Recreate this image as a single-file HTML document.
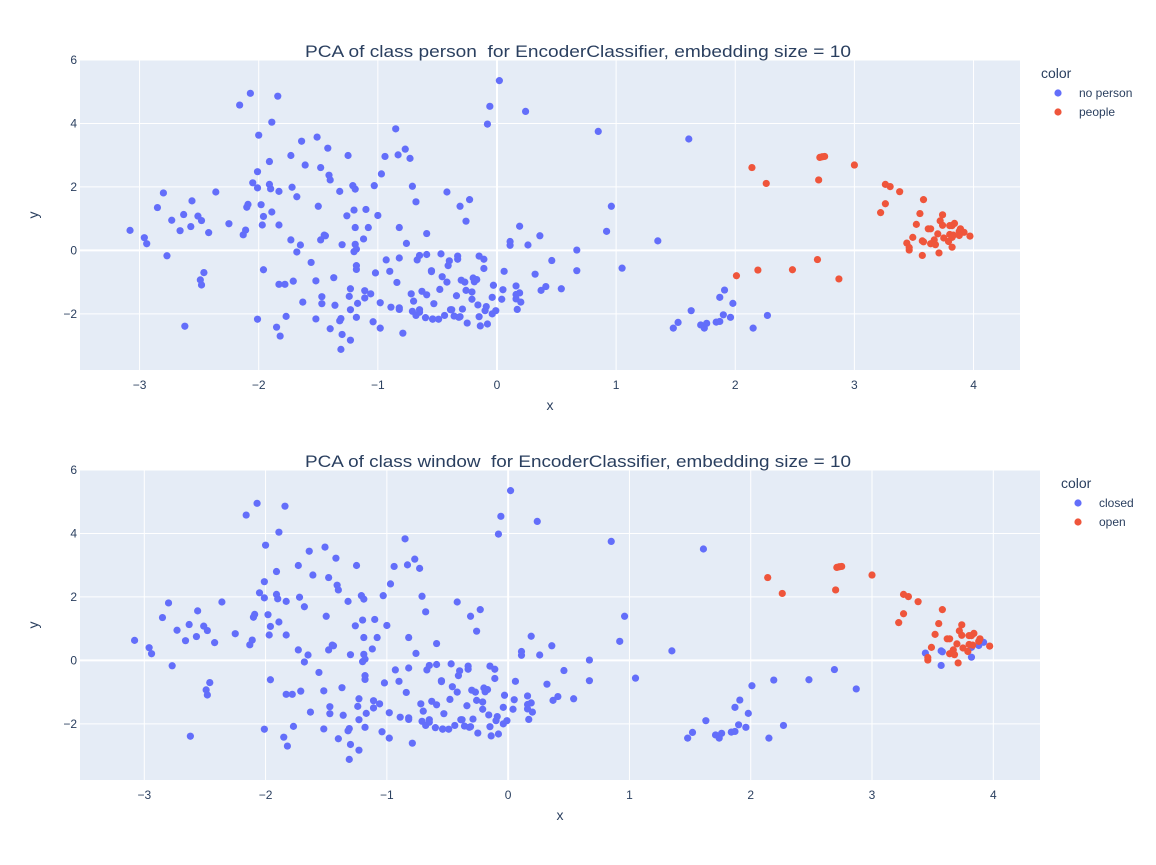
<!DOCTYPE html>
<html><head><meta charset="utf-8">
<style>
body{margin:0;background:#fff;font-family:"Liberation Sans",Arial,sans-serif;}
svg text{font-family:"Liberation Sans",Arial,sans-serif;fill:#2a3f5f;white-space:pre;}
</style></head>
<body>
<svg id="chart" width="1156" height="860" xmlns="http://www.w3.org/2000/svg"></svg>
<script>
const xVals=[-3.08,-2.96,-2.94,-2.77,-2.85,-2.80,-2.73,-2.66,-2.63,-2.57,-2.56,-2.51,-2.48,-2.42,-2.36,-2.46,-2.49,-2.48,-2.62,-2.25,-2.16,-2.07,-1.84,-1.89,-2.00,-2.01,-2.05,-2.01,-1.91,-1.91,-1.90,-1.83,-2.09,-2.10,-1.98,-1.96,-1.89,-1.97,-2.11,-2.13,-1.83,-1.96,-2.01,-1.85,-1.82,-1.77,-1.83,-1.78,-1.71,-1.63,-1.73,-1.65,-1.68,-1.56,-1.73,-1.64,-1.61,-1.72,-1.68,-1.51,-1.48,-1.42,-1.41,-1.40,-1.50,-1.48,-1.44,-1.45,-1.52,-1.47,-1.47,-1.37,-1.36,-1.52,-1.40,-1.32,-1.31,-1.30,-1.23,-1.31,-1.25,-1.32,-1.21,-1.19,-1.26,-1.20,-1.10,-1.19,-1.08,-1.12,-1.30,-1.19,-1.18,-1.20,-1.18,-1.18,-1.24,-1.23,-1.17,-1.11,-1.11,-1.06,-1.23,-1.18,-1.04,-0.98,-1.02,-0.98,-0.89,-0.82,-0.82,-0.79,-0.85,-0.83,-0.77,-0.73,-0.94,-0.97,-1.03,-1.00,-0.71,-0.68,-0.82,-0.76,-0.93,-0.90,-0.84,-0.82,-0.65,-0.67,-0.59,-0.59,-0.72,-0.70,-0.71,-0.68,-0.65,-0.65,-0.63,-0.59,-0.60,-0.54,-0.54,-0.49,-0.44,-0.53,-0.47,-0.55,-0.55,-0.48,-0.46,-0.42,-0.41,-0.40,-0.42,-0.31,-0.23,-0.26,-0.33,-0.33,-0.30,-0.27,-0.26,-0.21,-0.34,-0.21,-0.29,-0.39,-0.38,-0.36,-0.32,-0.31,-0.25,-0.15,-0.11,-0.11,-0.20,-0.17,-0.19,-0.16,-0.09,-0.10,-0.15,-0.14,-0.08,-0.04,-0.01,-0.04,0.04,0.05,-0.03,0.06,
0.02,-0.06,0.24,-0.08,0.85,1.61,0.96,0.92,0.19,0.36,0.11,0.11,0.26,0.67,1.35,0.46,0.32,1.05,0.67,0.16,0.19,0.16,0.16,0.20,0.41,0.37,0.54,0.17,1.63,1.52,1.48,1.71,1.74,1.76,1.84,1.87,1.90,1.96,1.87,1.91,1.98,2.15,2.27,
2.14,2.26,2.71,2.73,2.75,3.00,2.70,3.26,3.30,3.38,3.58,3.26,3.22,3.55,3.74,3.72,3.74,3.52,3.62,3.64,3.80,3.82,3.84,3.89,3.88,3.92,3.97,3.70,3.49,3.75,3.80,3.83,3.88,3.82,3.44,3.46,3.46,3.57,3.58,3.64,3.66,3.67,3.68,3.79,3.82,3.57,3.71,
2.01,2.19,2.48,2.69,2.87];
const yVals=[0.63,0.40,0.21,-0.17,1.35,1.81,0.95,0.62,1.13,0.75,1.56,1.08,0.94,0.56,1.84,-0.70,-0.93,-1.09,-2.39,0.84,4.58,4.95,4.86,4.04,3.63,2.48,2.13,1.97,2.80,2.08,1.94,1.86,1.45,1.36,1.44,1.07,1.21,0.80,0.64,0.49,0.80,-0.61,-2.17,-2.42,-2.70,-2.08,-1.07,-1.07,-0.97,-1.63,0.33,0.17,-0.05,-0.38,2.99,3.44,2.69,1.99,1.69,3.57,2.61,3.22,2.37,2.22,1.39,0.33,0.46,0.48,-0.96,-1.46,-1.68,-0.86,-1.73,-2.16,-2.47,-2.22,-2.15,-2.65,-2.83,-3.12,2.99,1.86,2.04,1.93,1.09,1.27,1.29,0.72,0.72,0.36,0.18,0.19,0.04,-0.04,-0.48,-0.60,-1.45,-1.21,-1.67,-1.27,-1.50,-1.37,-1.87,-2.11,-2.25,-2.45,-0.71,-1.65,-1.79,-1.81,-1.86,-2.61,3.83,3.01,3.19,2.90,2.96,2.41,2.04,1.10,2.02,1.53,0.72,0.22,-0.30,-0.66,-1.01,-0.24,-0.16,-0.30,-0.13,0.53,-1.37,-1.60,-1.92,-2.05,-1.87,-1.95,-1.29,-1.40,-2.12,-2.17,-2.16,-2.17,-2.05,-1.68,-0.11,-0.67,-0.64,-1.23,-0.83,-1.00,-0.48,-0.33,1.84,1.39,1.60,0.92,-0.18,-0.28,-0.94,-1.00,-1.26,-1.31,-1.43,-1.54,-1.85,-1.87,-1.87,-2.07,-2.11,-2.09,-2.29,-0.18,-0.28,-0.57,-0.87,-0.92,-0.99,-1.72,-1.77,-1.90,-2.09,-2.38,-2.32,-2.00,-1.90,-1.48,-1.54,-1.24,-1.10,-0.66,
5.35,4.54,4.38,3.98,3.75,3.51,1.39,0.60,0.76,0.46,0.28,0.16,0.17,0.01,0.30,-0.32,-0.75,-0.56,-0.64,-1.12,-1.34,-1.39,-1.53,-1.63,-1.14,-1.26,-1.21,-1.86,-1.90,-2.27,-2.45,-2.35,-2.45,-2.30,-2.26,-2.24,-2.03,-2.11,-1.48,-1.25,-1.67,-2.45,-2.05,
2.61,2.11,2.93,2.95,2.96,2.69,2.22,2.08,2.01,1.85,1.60,1.47,1.19,1.16,1.12,0.93,0.79,0.82,0.68,0.68,0.78,0.78,0.85,0.68,0.60,0.57,0.45,0.52,0.41,0.39,0.50,0.48,0.47,0.41,0.23,0.09,0.01,0.30,0.27,0.21,0.24,0.33,0.18,0.28,0.10,-0.16,-0.08,
-0.80,-0.62,-0.61,-0.29,-0.90];
// last 52 points are 'people' (47 cluster + 5 low); the last 5 are 'closed' windows
const peopleCount=52;
const lowCount=5;
const closedInCluster=[[3.44,0.23],[3.57,0.30],[3.58,0.27],[3.57,-0.16],[3.82,0.10],[3.92,0.57],[3.88,0.47],[3.82,0.41]];
const N=xVals.length;
const personClass=xVals.map((x,i)=> i<N-peopleCount?'no person':'people');
const windowClass=xVals.map((x,i)=>{
  if(i<N-peopleCount) return 'closed';
  if(i>=N-lowCount) return 'closed';
  return closedInCluster.some(p=>p[0]===x&&p[1]===yVals[i])?'closed':'open';
});
const xTicks=[-3,-2,-1,0,1,2,3,4];
const yTicks=[-2,0,2,4,6];
const panels=[
 {name:'person',title:'PCA of class person  for EncoderClassifier, embedding size = 10',labels:personClass,cats:['no person','people'],
  left:80,right:1020,top:60,bottom:370,xmin:-3.5,xmax:4.39,legX:1041,legY:78},
 {name:'window',title:'PCA of class window  for EncoderClassifier, embedding size = 10',labels:windowClass,cats:['closed','open'],
  left:80,right:1040,top:470,bottom:780,xmin:-3.53,xmax:4.385,legX:1061,legY:488}
];
const colors=['#636efa','#EF553B'];
const ymin=-3.77,ymax=6.0;
const NS='http://www.w3.org/2000/svg';
const svg=document.getElementById('chart');
function mk(tag,attrs,parent){const e=document.createElementNS(NS,tag);for(const k in attrs)e.setAttribute(k,attrs[k]);(parent||svg).appendChild(e);return e;}
panels.forEach(p=>{
  const sx=v=>p.left+(v-p.xmin)/(p.xmax-p.xmin)*(p.right-p.left);
  const sy=v=>p.bottom-(v-ymin)/(ymax-ymin)*(p.bottom-p.top);
  const g=mk('g',{});
  
  
  const bg=mk('rect',{x:p.left,y:p.top,width:p.right-p.left,height:p.bottom-p.top,fill:'#e5ecf6'},g);
  
  
  xTicks.forEach(t=>{
    const l=mk('line',{x1:sx(t),x2:sx(t),y1:p.top,y2:p.bottom,stroke:'#fff','stroke-width':t===0?2:1},g);
    
    
    const tx=mk('text',{x:sx(t),y:p.bottom+19,'text-anchor':'middle','font-size':12},g);
    tx.textContent=t<0?'\u2212'+(-t):String(t);
    
    
  });
  yTicks.forEach(t=>{
    const l=mk('line',{x1:p.left,x2:p.right,y1:sy(t),y2:sy(t),stroke:'#fff','stroke-width':t===0?2:1},g);
    
    
    const tx=mk('text',{x:p.left-3,y:sy(t)+4,'text-anchor':'end','font-size':12},g);
    tx.textContent=t<0?'\u2212'+(-t):String(t);
    
    
  });
  p.cats.forEach((c,ci)=>{
    const sg=mk('g',{},g);
    
    
    xVals.forEach((x,i)=>{
      if(p.labels[i]!==c) return;
      const pt=mk('circle',{cx:sx(x),cy:sy(yVals[i]),r:3.6,fill:colors[ci]},sg);
      
      
    });
  });
  const ttl=mk('text',{x:305,y:p.top-3,'font-size':17,textLength:546,lengthAdjust:'spacingAndGlyphs'},g);
  ttl.textContent=p.title;
  
  
  const xt=mk('text',{x:(p.left+p.right)/2,y:p.bottom+40,'text-anchor':'middle','font-size':14},g);
  xt.textContent='x';
  
  
  const yc=(p.top+p.bottom)/2;
  const yt=mk('text',{x:38,y:yc,'text-anchor':'middle','font-size':14,transform:'rotate(-90 38 '+yc+')'},g);
  yt.textContent='y';
  
  
  const lt=mk('text',{x:p.legX,y:p.legY,'font-size':14},g);
  lt.textContent='color';
  
  
  p.cats.forEach((c,ci)=>{
    const le=mk('g',{},g);
    
    
    const yy=p.legY+15+ci*19;
    mk('circle',{cx:p.legX+17,cy:yy,r:3.6,fill:colors[ci]},le);
    const t=mk('text',{x:p.legX+38,y:yy+4,'font-size':12},le);
    t.textContent=c;
  });
});
</script>
</body></html>
